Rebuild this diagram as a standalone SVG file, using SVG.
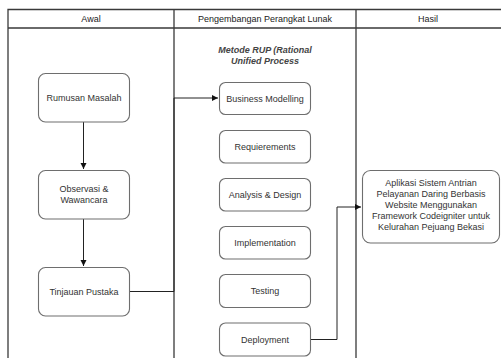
<svg xmlns="http://www.w3.org/2000/svg" width="501" height="358" viewBox="0 0 501 358">
<style>
.frame{fill:none;stroke:#3a3a3a;stroke-width:1.3}
.box{fill:#fff;stroke:#6e6e6e;stroke-width:1.1}
.t{font-family:"Liberation Sans",Arial,sans-serif;font-size:9px;fill:#333;text-anchor:middle}
.h{font-family:"Liberation Sans",Arial,sans-serif;font-size:9px;fill:#222;text-anchor:middle}
.it{font-family:"Liberation Sans",Arial,sans-serif;font-size:9px;font-style:italic;font-weight:bold;fill:#444;text-anchor:middle}
.c{fill:none;stroke:#222;stroke-width:1}
</style>
<defs>
<marker id="ar" markerWidth="8" markerHeight="8" refX="6" refY="3" orient="auto" markerUnits="userSpaceOnUse">
<path d="M0,0 L6,3 L0,6 Z" fill="#111"/>
</marker>
</defs>
<rect width="501" height="358" fill="#fff"/>
<g id="lanes">
<path class="frame" d="M8,358 V9.5 H501 M8,28 H501 M174,9.5 V358 M356,9.5 V358"/>
<text class="h" x="91" y="22">Awal</text>
<text class="h" x="265" y="22">Pengembangan Perangkat Lunak</text>
<text class="h" x="428" y="22">Hasil</text>
<text class="it" x="265" y="53">Metode RUP (Rational</text>
<text class="it" x="265" y="64">Unified Process</text>
</g>
<g id="connectors">
<path class="c" d="M83.5,122 V169" marker-end="url(#ar)"/>
<path class="c" d="M83.5,219 V266" marker-end="url(#ar)"/>
<path class="c" d="M129,291.5 H174 V98 H218" marker-end="url(#ar)"/>
<path class="c" d="M311,339.5 H337 V207 H361" marker-end="url(#ar)"/>
</g>
<g id="rumusan"><rect class="box" x="38.5" y="73.5" width="91" height="48.5" rx="7"/><text class="t" x="84" y="101">Rumusan Masalah</text></g>
<g id="observasi"><rect class="box" x="38.5" y="170.5" width="91" height="48.5" rx="7"/><text class="t" x="84" y="192">Observasi &amp;</text><text class="t" x="84" y="203">Wawancara</text></g>
<g id="tinjauan"><rect class="box" x="38.5" y="267.5" width="91" height="48.5" rx="7"/><text class="t" x="84" y="295">Tinjauan Pustaka</text></g>
<g id="business"><rect class="box" x="219.5" y="82.5" width="91" height="32" rx="6"/><text class="t" x="265" y="101.5">Business Modelling</text></g>
<g id="requirements"><rect class="box" x="219.5" y="130.5" width="91" height="32.5" rx="6"/><text class="t" x="265" y="149.5">Requierements</text></g>
<g id="analysis"><rect class="box" x="219.5" y="178.5" width="91" height="32.5" rx="6"/><text class="t" x="265" y="197.5">Analysis &amp; Design</text></g>
<g id="implementation"><rect class="box" x="219.5" y="226.5" width="91" height="32.5" rx="6"/><text class="t" x="265" y="245.5">Implementation</text></g>
<g id="testing"><rect class="box" x="219.5" y="274.5" width="91" height="33" rx="6"/><text class="t" x="265" y="294">Testing</text></g>
<g id="deployment"><rect class="box" x="219.5" y="323" width="91" height="33" rx="6"/><text class="t" x="265" y="342.5">Deployment</text></g>
<g id="hasil"><rect class="box" x="362.5" y="170.5" width="137" height="72.5" rx="8"/>
<text class="t" x="431" y="186">Aplikasi Sistem Antrian</text>
<text class="t" x="431" y="197">Pelayanan Daring Berbasis</text>
<text class="t" x="431" y="208">Website Menggunakan</text>
<text class="t" x="431" y="219">Framework Codeigniter untuk</text>
<text class="t" x="431" y="230">Kelurahan Pejuang Bekasi</text>
</g>
</svg>
